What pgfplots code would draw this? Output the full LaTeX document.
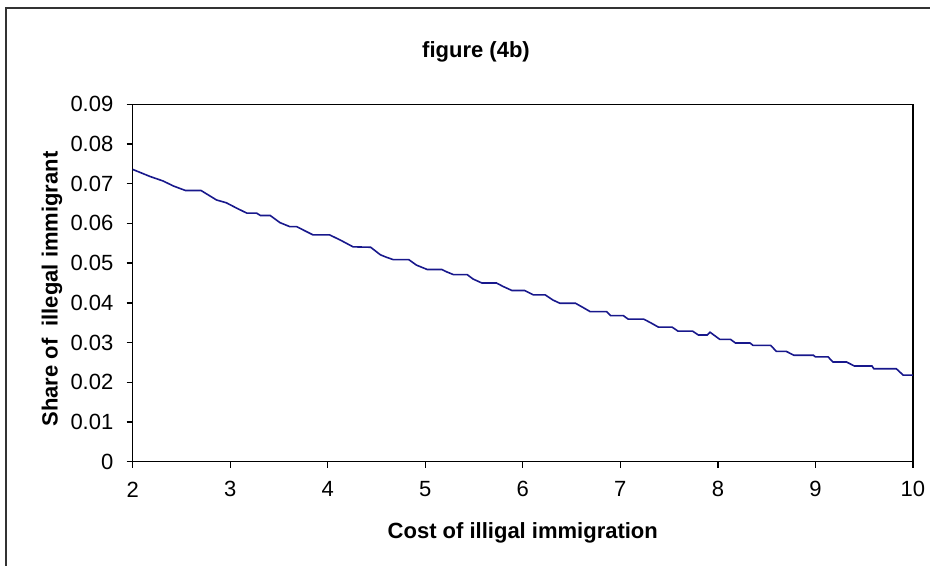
\documentclass[border=0pt]{standalone}
\usepackage{fontspec}
\setmainfont{Liberation Sans}
\usepackage{pgfplots}
\pgfplotsset{compat=1.18}
\definecolor{lineblue}{RGB}{24,24,140}
\begin{document}
\fontsize{16.5}{19}\selectfont
\begin{tikzpicture}
\useasboundingbox (0,0) rectangle (697.5pt,424.5pt);
\draw[line width=1pt, black!80] (4.5pt,0) -- (4.5pt,418.5pt) -- (697.5pt,418.5pt);
\node[font=\fontsize{16.5}{19}\selectfont\bfseries] at (357pt,385.5pt) {figure (4b)};
\begin{axis}[
  at={(99.5pt,78.2pt)}, anchor=south west,
  scale only axis, width=585.2pt, height=268.1pt,
  xmin=2, xmax=10, ymin=0, ymax=0.09,
  xtick={2,3,...,10},
  ytick={0,0.01,...,0.09},
  tick align=outside, major tick length=4.5pt,
  xtick pos=bottom, ytick pos=left,
  axis line style={line width=1pt},
  every tick/.style={black, line width=1pt},
  scaled y ticks=false,
  yticklabel style={/pgf/number format/fixed, /pgf/number format/precision=2},
  /pgf/number format/assume math mode=true,
  tick label style={font=\fontsize{16.5}{19}\selectfont},
  xticklabel style={inner sep=0pt, anchor=center, yshift=-16.2pt},
  yticklabel style={inner sep=0pt, anchor=east, xshift=-9.8pt},
  xlabel={Cost of illigal immigration},
  ylabel={Share of\ \ illegal immigrant},
  every axis x label/.style={at={(rel axis cs:0.5,0)}, anchor=center, yshift=-53.5pt, font=\fontsize{16.5}{19}\selectfont\bfseries},
  every axis y label/.style={at={(axis description cs:-0.1034,0.483)}, anchor=center, rotate=90, font=\fontsize{16.5}{19}\selectfont\bfseries},
]
\addplot[color=lineblue, line width=1.2pt, sharp plot] coordinates {
(2.00,0.0736) (2.18,0.0718) (2.31,0.0707) (2.42,0.0694) (2.54,0.0683) (2.70,0.0683)
(2.86,0.0659) (2.96,0.0652) (3.07,0.0638) (3.17,0.0626) (3.27,0.0626) (3.31,0.0620)
(3.41,0.0620) (3.51,0.0602) (3.61,0.0592) (3.68,0.0592) (3.85,0.0571) (4.02,0.0571)
(4.13,0.0558) (4.26,0.0541) (4.44,0.0540) (4.54,0.0521) (4.60,0.0515) (4.67,0.0509)
(4.83,0.0509) (4.91,0.0495) (5.02,0.0484) (5.17,0.0484) (5.22,0.0478) (5.29,0.0471)
(5.43,0.0471) (5.49,0.0460) (5.58,0.0450) (5.73,0.0450) (5.80,0.0441) (5.89,0.0431)
(6.02,0.0431) (6.11,0.0420) (6.23,0.0420) (6.31,0.0407) (6.38,0.0399) (6.54,0.0399)
(6.62,0.0388) (6.69,0.0378) (6.86,0.0378) (6.90,0.0368) (7.03,0.0368) (7.08,0.0359)
(7.24,0.0359) (7.31,0.0350) (7.39,0.0339) (7.53,0.0339) (7.59,0.0329) (7.74,0.0329)
(7.80,0.0319) (7.89,0.0319) (7.92,0.0326) (8.02,0.0308) (8.13,0.0308) (8.18,0.0299)
(8.33,0.0299) (8.36,0.0293) (8.54,0.0293) (8.60,0.0278) (8.70,0.0278) (8.78,0.0268)
(8.98,0.0268) (9.00,0.0264) (9.13,0.0264) (9.18,0.0251) (9.32,0.0251) (9.40,0.0241)
(9.58,0.0241) (9.60,0.0234) (9.83,0.0234) (9.90,0.0218) (10.00,0.0218)
};
\end{axis}
\end{tikzpicture}
\end{document}
